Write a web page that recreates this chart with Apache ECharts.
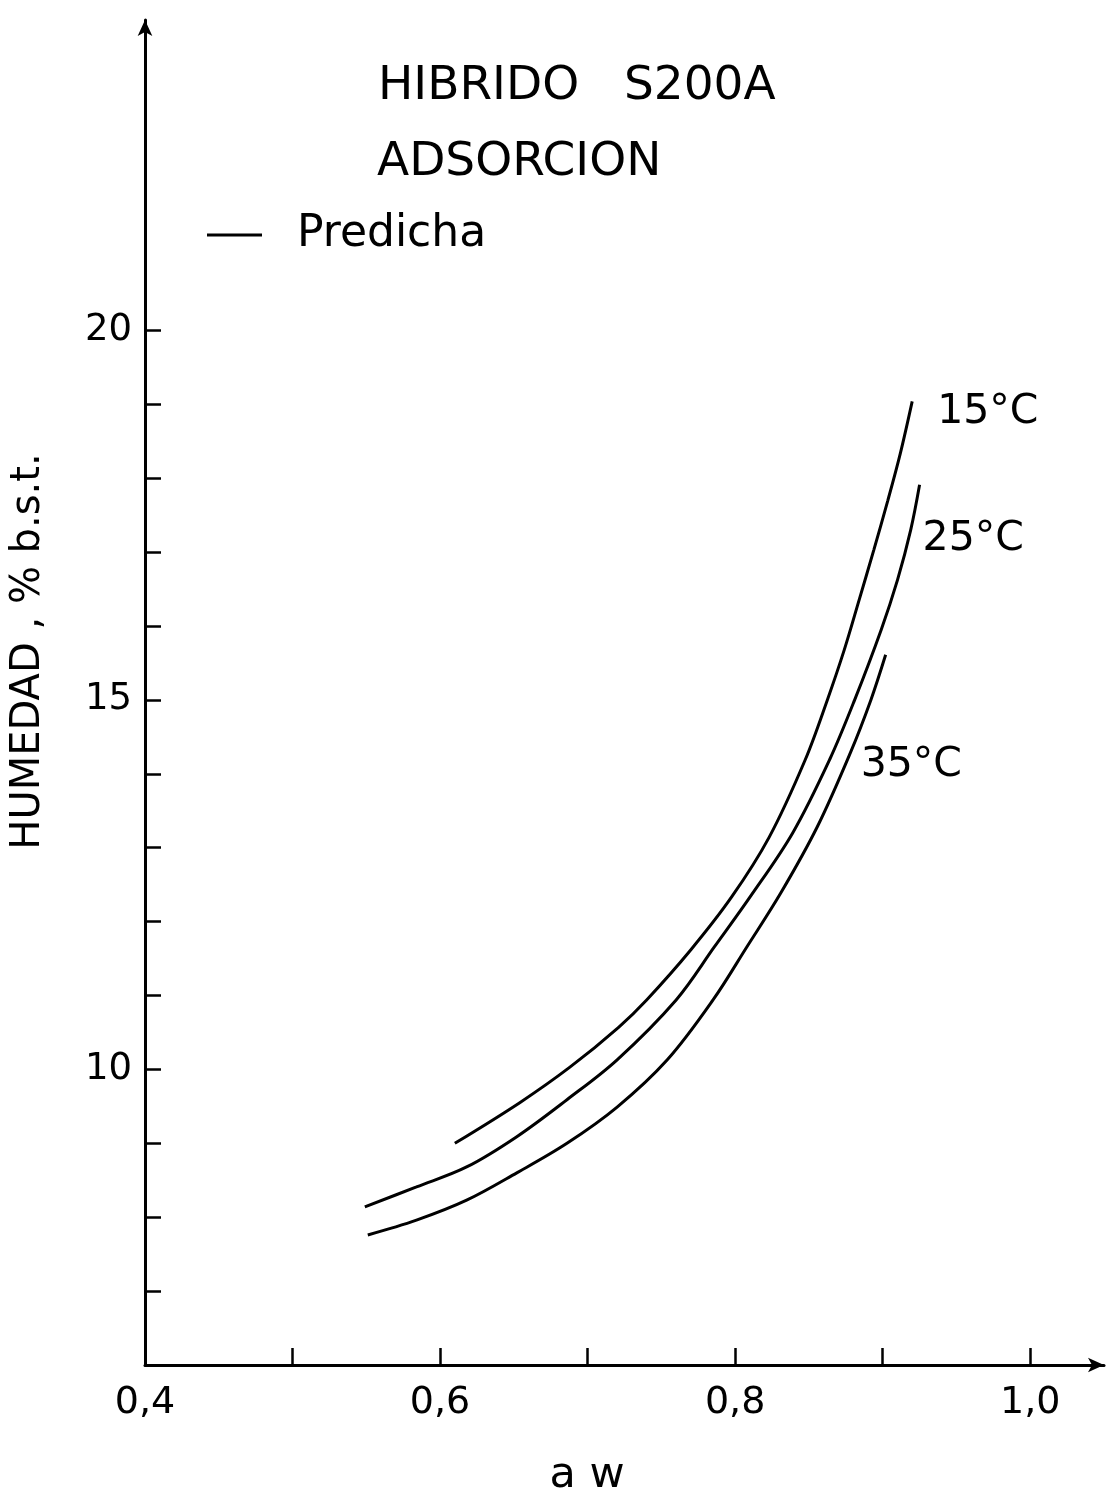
<!DOCTYPE html>
<html>
<head>
<meta charset="utf-8">
<title>Isotermas de adsorción - Híbrido S200A</title>
<script src="https://cdn.jsdelivr.net/npm/echarts@6/dist/echarts.min.js"></script>
<style>
  html, body { margin: 0; padding: 0; background: #fff; }
  #chart { width: 1114px; height: 1490px; }
</style>
</head>
<body>
<div id="chart"></div>
<script>
// Predicted adsorption isotherms: water activity (a w) vs moisture (% b.s.t.)
const aw15 = [0.610, 0.654, 0.688, 0.721, 0.740, 0.770, 0.7975, 0.823, 0.8475, 0.8625, 0.874, 0.884, 0.894, 0.9035, 0.912, 0.920];
const hum15 = [9.00, 9.55, 10.03, 10.57, 10.94, 11.62, 12.33, 13.14, 14.19, 15.00, 15.68, 16.35, 17.03, 17.70, 18.34, 19.04];

const aw25 = [0.549, 0.584, 0.618, 0.652, 0.686, 0.720, 0.760, 0.786, 0.810, 0.839, 0.864, 0.881, 0.899, 0.910, 0.919, 0.925];
const hum25 = [8.14, 8.41, 8.68, 9.09, 9.59, 10.13, 10.94, 11.66, 12.33, 13.20, 14.19, 15.00, 15.95, 16.62, 17.30, 17.91];

const aw35 = [0.551, 0.584, 0.618, 0.652, 0.686, 0.720, 0.754, 0.785, 0.808, 0.831, 0.8556, 0.878, 0.892, 0.902];
const hum35 = [7.76, 7.96, 8.23, 8.60, 9.00, 9.49, 10.13, 10.94, 11.66, 12.39, 13.28, 14.28, 15.00, 15.61];

const tempLabels = ['15°C', '25°C', '35°C'];
const xTicks = [0.5, 0.6, 0.7, 0.8, 0.9, 1.0];
const xTickLabels = [0.4, 0.6, 0.8, 1.0];
const yTicks = [7, 8, 9, 10, 11, 12, 13, 14, 15, 16, 17, 18, 19, 20];
const yTickLabels = [10, 15, 20];

const titleLine1 = 'HIBRIDO   S200A';
const titleLine2 = 'ADSORCION';
const legendName = 'Predicha';
const xName = 'a w';
const yName = 'HUMEDAD , % b.s.t.';

const FONT = 'DejaVu Sans';
const INK = '#000';

function pairs(xs, ys) { return xs.map((x, i) => [x, ys[i]]); }

const curves = [pairs(aw15, hum15), pairs(aw25, hum25), pairs(aw35, hum35)];
const labelOffsets = [[17, 11], [-5, 55], [-33, 111]];

const chart = echarts.init(document.getElementById('chart'), null, { renderer: 'canvas' });

chart.setOption({
  animation: false,
  backgroundColor: '#fff',
  grid: { left: 145, right: 10, top: 20, bottom: 125, containLabel: false, outerBoundsMode: 'none' },
  legend: {
    data: [legendName],
    left: 207,
    top: 213,
    padding: 0,
    icon: 'rect',
    itemWidth: 55,
    itemHeight: 3,
    textStyle: { fontFamily: FONT, fontSize: 44, color: INK, padding: [0, 0, 0, 30] },
    selectedMode: false
  },
  graphic: [
    { type: 'text', left: 378, top: 63, style: { text: titleLine1, font: '47px "DejaVu Sans"', fill: INK } },
    { type: 'text', left: 377, top: 139, style: { text: titleLine2, font: '47px "DejaVu Sans"', fill: INK } }
  ],
  xAxis: {
    type: 'value',
    min: 0.4,
    max: 1.05,
    interval: 0.1,
    name: xName,
    nameLocation: 'middle',
    nameGap: 89,
    nameTextStyle: { fontFamily: FONT, fontSize: 43, color: INK, padding: [0, 75, 0, 0] },
    splitLine: { show: false },
    axisLine: {
      show: true,
      onZero: false,
      symbol: ['none', 'arrow'],
      symbolSize: [11, 16],
      lineStyle: { color: INK, width: 3 }
    },
    axisTick: {
      show: true,
      inside: true,
      length: 17,
      customValues: xTicks,
      lineStyle: { color: INK, width: 2.5 }
    },
    axisLabel: {
      customValues: xTickLabels,
      margin: 19,
      fontFamily: FONT,
      fontSize: 38,
      color: INK,
      formatter: v => v.toFixed(1).replace('.', ',')
    }
  },
  yAxis: {
    type: 'value',
    min: 6,
    max: 24.2,
    interval: 1,
    name: yName,
    nameLocation: 'middle',
    nameRotate: 90,
    nameGap: 96,
    nameTextStyle: { fontFamily: FONT, fontSize: 40, color: INK, padding: [0, 0, 0, 82] },
    splitLine: { show: false },
    axisLine: {
      show: true,
      onZero: false,
      symbol: ['none', 'arrow'],
      symbolSize: [11, 16],
      lineStyle: { color: INK, width: 3 }
    },
    axisTick: {
      show: true,
      inside: true,
      length: 16,
      customValues: yTicks,
      lineStyle: { color: INK, width: 2.5 }
    },
    axisLabel: {
      customValues: yTickLabels,
      margin: 13,
      fontFamily: FONT,
      fontSize: 37,
      color: INK,
      formatter: v => String(v)
    }
  },
  series: curves.map((data, i) => ({
    type: 'line',
    name: legendName,
    data: data,
    smooth: 0.35,
    showSymbol: false,
    symbol: 'none',
    color: INK,
    lineStyle: { color: INK, width: 3 },
    endLabel: {
      show: true,
      formatter: () => tempLabels[i],
      offset: labelOffsets[i],
      fontFamily: FONT,
      fontSize: 41,
      color: INK
    },
    emphasis: { disabled: true }
  }))
});
</script>
</body>
</html>
